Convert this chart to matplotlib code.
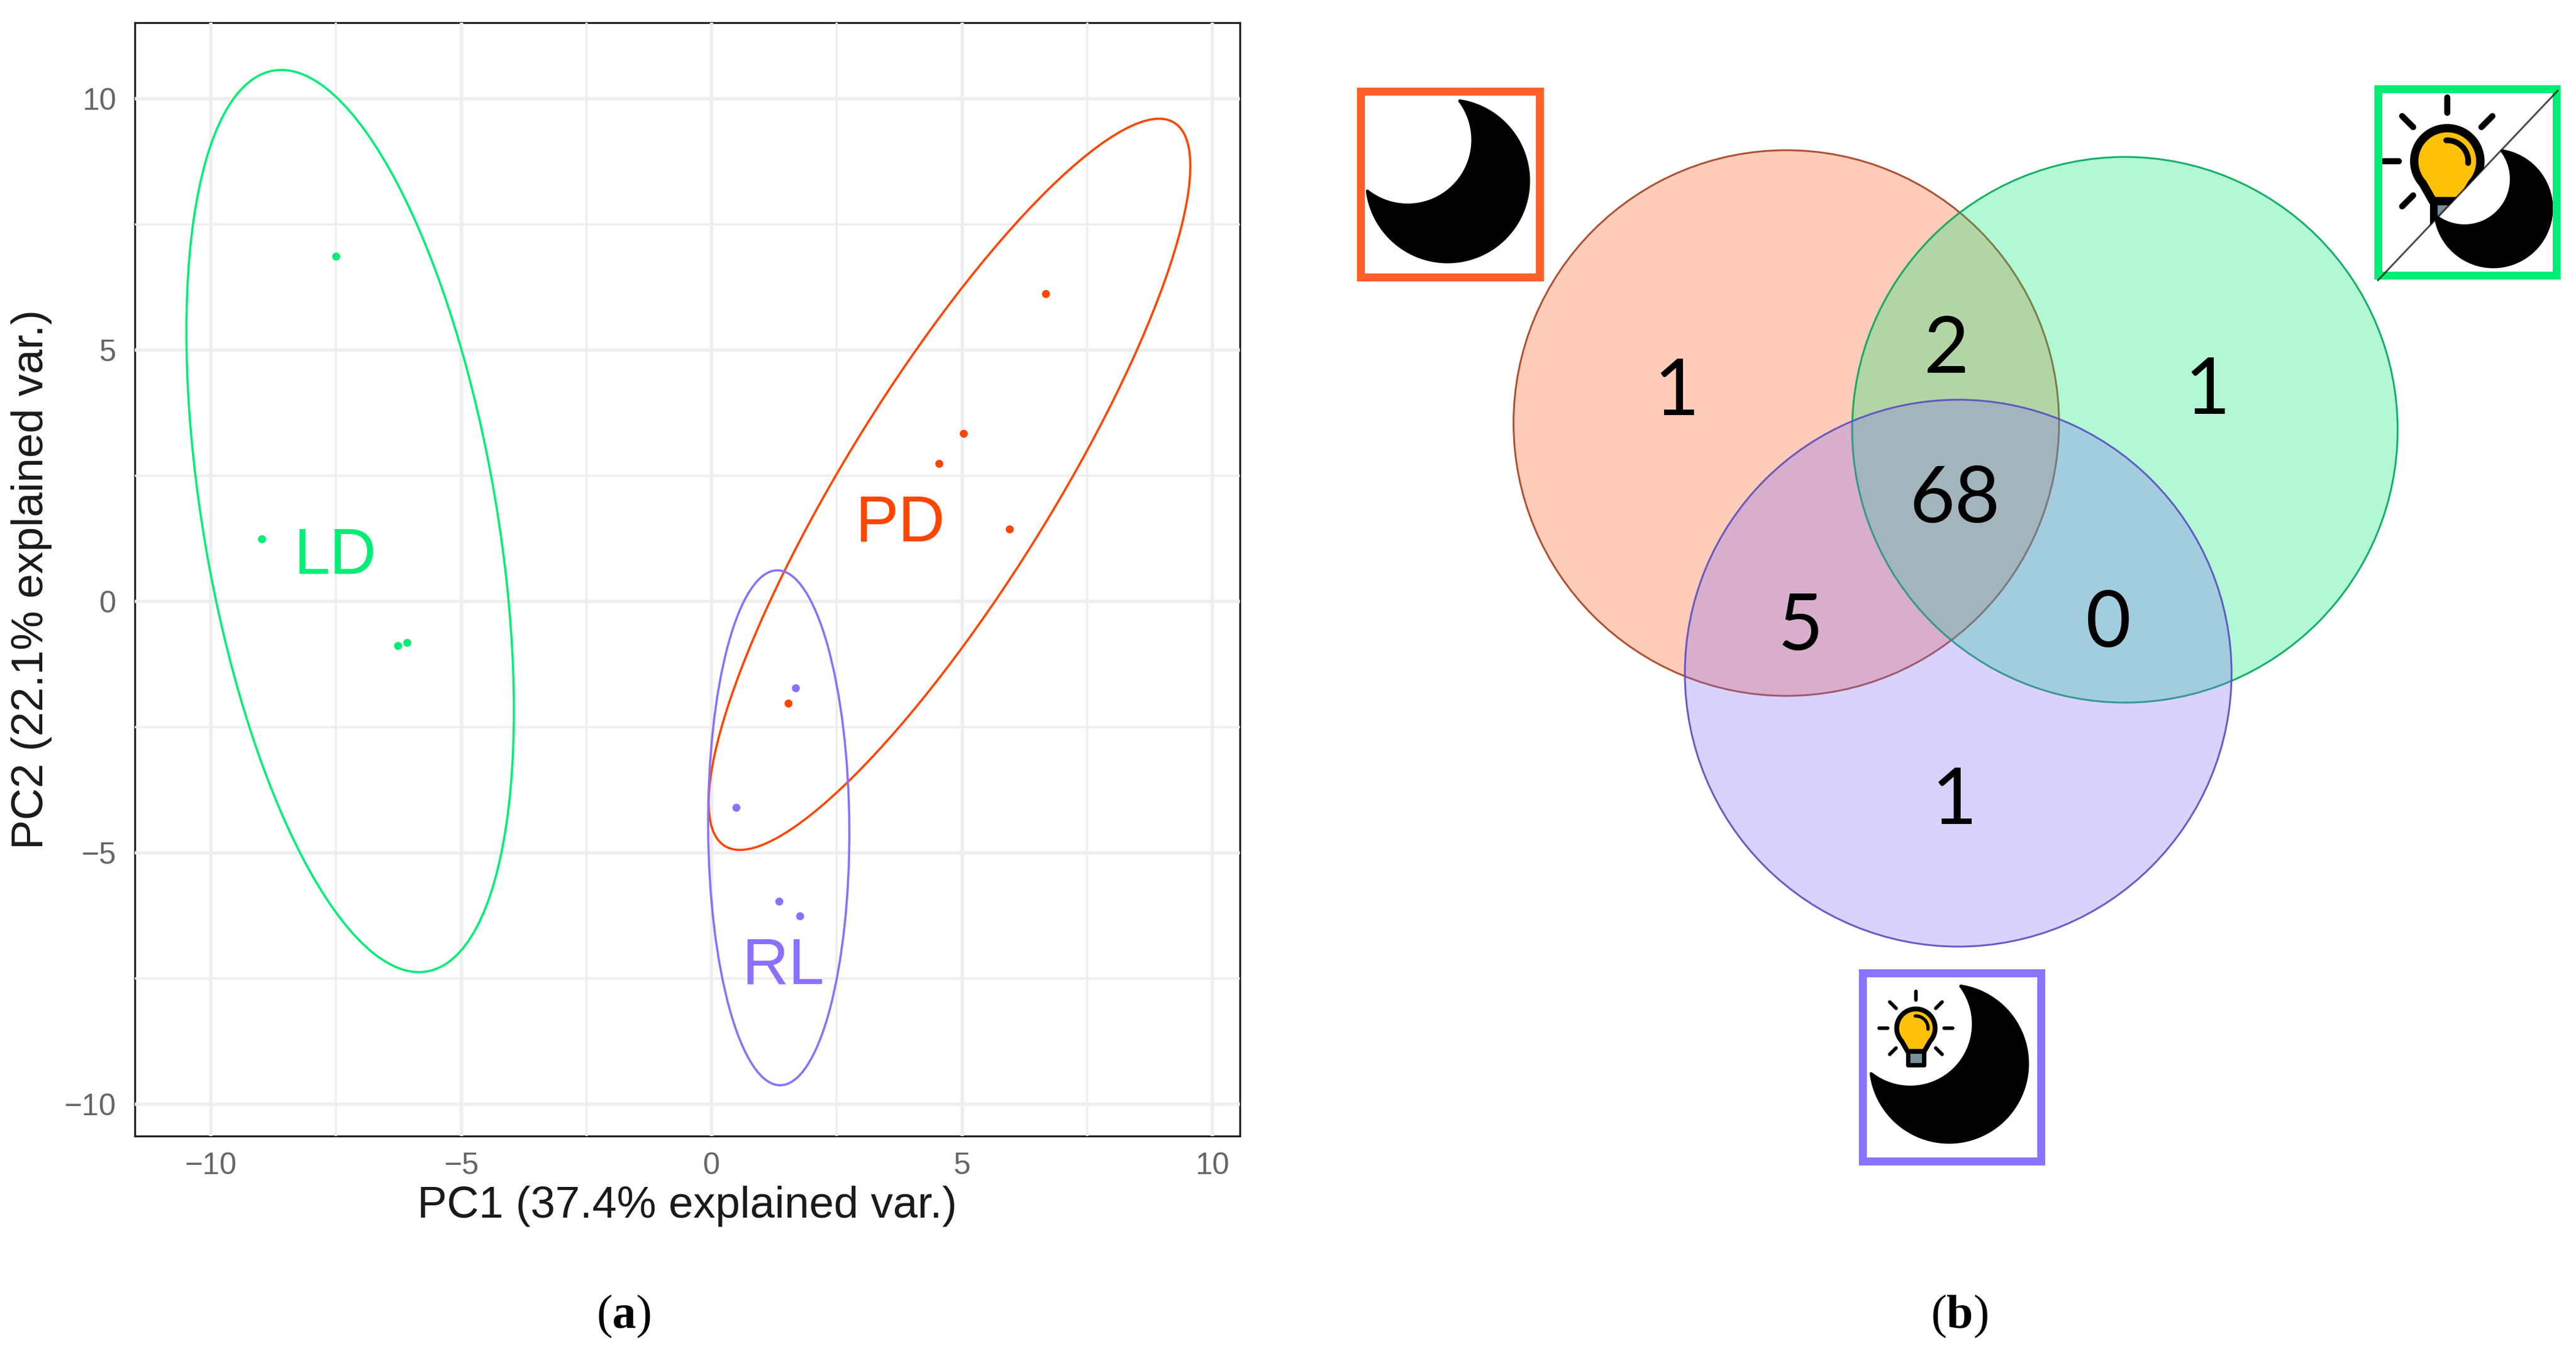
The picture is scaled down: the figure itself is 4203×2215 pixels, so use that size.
import numpy as np
import matplotlib
matplotlib.use('Agg')
import matplotlib.pyplot as plt
from matplotlib.patches import Ellipse, Circle, Rectangle, Polygon

plt.rcParams['font.family'] = ['Liberation Sans', 'DejaVu Sans']
plt.rcParams['mathtext.fontset'] = 'custom'
plt.rcParams['mathtext.rm'] = 'Liberation Serif'
plt.rcParams['mathtext.bf'] = 'Liberation Serif:bold'

W, H = 4203, 2215
DPI = 100
PT = 72 / DPI  # one pixel in points

# PCA scores
ld_x = [-7.50, -8.99, -6.27, -6.08]
ld_y = [6.87, 1.24, -0.88, -0.82]
pd_x = [6.67, 5.03, 4.54, 5.95, 1.53]
pd_y = [6.12, 3.34, 2.75, 1.44, -2.02]
rl_x = [1.68, 0.49, 1.34, 1.76]
rl_y = [-1.72, -4.09, -5.96, -6.25]

ld_ell = (-7.22, 1.60, 3.27, 8.97, -0.42)
pd_ell = (4.75, 2.33, 4.81, 7.27, 0.87)
rl_ell = (1.34, -4.50, 1.41, 5.12, -0.02)

group_names = ['LD', 'PD', 'RL']
group_label_x = [-7.52, 3.77, 1.43]
group_label_y = [0.88, 1.54, -7.26]
major_ticks = [-10, -5, 0, 5, 10]
minor_ticks = [-7.5, -2.5, 2.5, 7.5]

venn_counts = ['1', '1', '1', '2', '5', '0', '68']
venn_count_x = [2736, 3602, 3189, 3176, 2938, 3439, 3189]
venn_count_y = [630, 628, 1297, 561, 1013, 1008, 805]

GREEN = '#00EE76'
ORANGE = '#FF4500'
PURPLE = '#8A70FF'
BOX_ORANGE = '#FF6128'
BOX_PURPLE = '#8A73FF'
YELLOW = '#FFC107'


def add_ellipse(ax, ell, color):
    cx, cy, sx, sy, r = ell
    cov = np.array([[sx**2, r * sx * sy], [r * sx * sy, sy**2]])
    vals, vecs = np.linalg.eigh(cov)
    angle = np.degrees(np.arctan2(vecs[1, 1], vecs[0, 1]))
    ax.add_patch(Ellipse((cx, cy), 2 * np.sqrt(vals[1]), 2 * np.sqrt(vals[0]), angle=angle,
                         fc='none', ec=color, lw=3.6 * PT, zorder=4))


def add_box(ov, x0, y0, x1, y1, color):
    # outer edges given, border is 13 px wide
    ov.add_patch(Rectangle((x0 + 6.5, y0 + 6.5), x1 - x0 - 13, y1 - y0 - 13,
                           fc='none', ec=color, lw=13 * PT, zorder=8, joinstyle='miter'))


def add_moon(ov, cx, cy, r, clip=None):
    # crescent = big circle minus the smaller one shifted to upper left
    dx, dy, r2 = -0.494, -0.506, 0.805
    d = np.hypot(dx, dy)
    th = np.arctan2(dy, dx)
    alpha = np.arccos((d**2 + 1 - r2**2) / (2 * d))
    beta = np.arccos((d**2 + r2**2 - 1) / (2 * d * r2))
    t1 = np.linspace(alpha, 2 * np.pi - alpha, 120) + th
    t2 = np.linspace(np.pi + beta, np.pi - beta, 80) + th
    xs = np.r_[np.cos(t1), dx + r2 * np.cos(t2)]
    ys = np.r_[np.sin(t1), dy + r2 * np.sin(t2)]
    p = Polygon(np.c_[cx + r * xs, cy + r * ys], fc='black', ec='black', lw=5 * PT,
                joinstyle='round', zorder=6)
    ov.add_patch(p)
    if clip is not None:
        p.set_clip_path(clip)


def add_bulb(ov, cx, cy, r, rays, clip=None):
    arts = []
    # base
    base = Rectangle((cx - 0.36 * r, cy + 1.0 * r), 0.72 * r, 0.68 * r, fc='#78909C', ec='black',
                     lw=0.2 * r * PT, joinstyle='round', zorder=6)
    arts.append(ov.add_patch(base))
    # glass
    t = np.radians(np.linspace(42, -222, 100))
    gx = np.r_[0.87 * np.cos(t), -0.38, 0.38]
    gy = np.r_[0.87 * np.sin(t), 1.05, 1.05]
    glass = Polygon(np.c_[cx + r * gx, cy + r * gy], fc=YELLOW, ec='black', lw=0.22 * r * PT,
                    joinstyle='round', zorder=6.1)
    arts.append(ov.add_patch(glass))
    # highlight
    t = np.radians(np.linspace(-93, 5, 30))
    arts += ov.plot(cx + 0.55 * r * np.cos(t), cy + 0.55 * r * np.sin(t), color='black',
                    lw=0.15 * r * PT, solid_capstyle='round', zorder=6.2)
    for a in rays:
        a = np.radians(a)
        arts += ov.plot([cx + 1.27 * r * np.cos(a), cx + 1.68 * r * np.cos(a)],
                        [cy + 1.27 * r * np.sin(a), cy + 1.68 * r * np.sin(a)],
                        color='black', lw=0.16 * r * PT, solid_capstyle='round', zorder=6)
    if clip is not None:
        for a in arts:
            a.set_clip_path(clip)


fig = plt.figure(figsize=(W / DPI, H / DPI), dpi=DPI, facecolor='white')

# (a) PCA panel
ax = fig.add_axes([220 / W, 1 - 1853 / H, (2023 - 220) / W, (1853 - 37) / H])
ax.set_xlim(-11.52, 10.55)
ax.set_ylim(-10.63, 11.51)
ax.set_xticks(major_ticks)
ax.set_yticks(major_ticks)
ax.set_xticks(minor_ticks, minor=True)
ax.set_yticks(minor_ticks, minor=True)
ax.set_axisbelow(True)
ax.grid(which='major', color='#EEEEEE', lw=5.5 * PT)
ax.grid(which='minor', color='#EEEEEE', lw=3.5 * PT)
# grid runs over the frame in the original
for s in ax.spines.values():
    s.set_linewidth(3.2 * PT)
    s.set_color('#222222')
    s.set_zorder(0.1)
ax.tick_params(which='both', length=0)
ax.tick_params(axis='x', labelsize=36, labelcolor='#666666', pad=19)
ax.tick_params(axis='y', labelsize=36, labelcolor='#666666', pad=22)
ax.set_xlabel('PC1 (37.4% explained var.)', fontsize=52, labelpad=6, color='#1A1A1A')
ax.set_ylabel('PC2 (22.1% explained var.)', fontsize=52, labelpad=14, color='#1A1A1A')

add_ellipse(ax, ld_ell, GREEN)
add_ellipse(ax, pd_ell, ORANGE)
add_ellipse(ax, rl_ell, PURPLE)
ax.scatter(ld_x, ld_y, s=(13 * PT)**2, color=GREEN, lw=0, zorder=5)
ax.scatter(pd_x, pd_y, s=(13 * PT)**2, color=ORANGE, lw=0, zorder=5)
ax.scatter(rl_x, rl_y, s=(13 * PT)**2, color=PURPLE, lw=0, zorder=5)
for name, lx, ly, c in zip(group_names, group_label_x, group_label_y, [GREEN, ORANGE, PURPLE]):
    ax.text(lx, ly, name, color=c, fontsize=76, ha='center', va='center', zorder=5)

# everything on the right is placed in pixel coordinates
ov = fig.add_axes([0, 0, 1, 1], zorder=5)
ov.set_xlim(0, W)
ov.set_ylim(H, 0)
ov.axis('off')

# (b) venn
ov.add_patch(Circle((2914.5, 690), 445, fc=(1.0, 0.35, 0.11, 0.3), ec=(0.65, 0.25, 0.12, 0.9),
                    lw=3 * PT, zorder=2))
ov.add_patch(Circle((3467, 701), 445, fc=(0.0, 0.92, 0.46, 0.3), ec=(0.0, 0.65, 0.35, 0.9),
                    lw=3 * PT, zorder=2.1))
ov.add_patch(Circle((3195, 1098), 446, fc=(0.5, 0.42, 0.97, 0.3), ec=(0.35, 0.3, 0.75, 0.9),
                    lw=3 * PT, zorder=2.2))
for txt, tx, ty in zip(venn_counts, venn_count_x, venn_count_y):
    ov.text(tx, ty, txt, fontsize=92, family=['Lato', 'DejaVu Sans'], color='black',
            ha='center', va='center_baseline', zorder=3)

# icon: night
add_moon(ov, 2362, 295, 132)
add_box(ov, 2213, 142, 2518, 458, BOX_ORANGE)

# icon: half light half night
tri = Polygon([(3880, 457), (4173, 148), (3880, 148)], transform=ov.transData, fc='none', ec='none')
ov.add_patch(tri)
add_bulb(ov, 3993, 263, 62, [-90, -45, -135, 180, 135, 0, 45], clip=tri)
add_moon(ov, 4068, 340, 95)
add_box(ov, 3873, 138, 4177, 455, GREEN)
ov.plot([3880, 4173], [457, 148], color='black', alpha=0.7, lw=3 * PT, zorder=9)

# icon: light and night
add_moon(ov, 3180, 1735, 128)
add_bulb(ov, 3126, 1677, 36, [-90, -45, -135, 180, 135, 0, 45])
add_box(ov, 3032, 1580, 3336, 1900, BOX_PURPLE)

ov.text(1018, 2147, r'($\mathbf{a}$)', fontsize=56, family='Liberation Serif', ha='center',
        va='center', color='black')
ov.text(3197, 2147, r'($\mathbf{b}$)', fontsize=56, family='Liberation Serif', ha='center',
        va='center', color='black')

fig.savefig('out.png', dpi=DPI)
